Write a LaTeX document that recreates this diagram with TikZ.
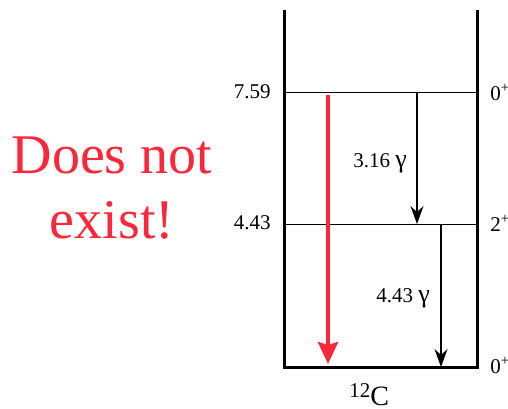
\documentclass[tikz,border=0pt]{standalone}
\usepackage{fontspec}
\setmainfont{LiberationSerif}[Extension=.ttf, UprightFont=*-Regular, BoldFont=*-Bold]
\usetikzlibrary{arrows.meta}

\definecolor{decayred}{RGB}{252,40,58}

\tikzset{
  wall/.style={line width=1.5pt, line join=miter},
  levelline/.style={line width=0.5pt},
  energy/.style={anchor=east, inner sep=0pt, font=\fontsize{10.5}{12}\selectfont},
  spin/.style={anchor=west, inner sep=0pt, font=\fontsize{10.5}{12}\selectfont},
  gammalabel/.style={inner sep=0pt, font=\fontsize{10.5}{12}\selectfont},
  gammaline/.style={line width=0.6pt, -{Stealth[length=9pt, width=6.5pt, inset=3pt]}},
  forbidden/.style={decayred, line width=2pt, -{Stealth[length=11pt, width=10pt, inset=1.5pt]}},
  bigred/.style={decayred, anchor=base, inner sep=0pt, font=\fontsize{28}{32}\selectfont},
}

\begin{document}
\begin{tikzpicture}[x=0.5pt, y=-0.5pt]
  \useasboundingbox (0,0) rectangle (508,408);

  % Box of the level scheme
  \coordinate (tl) at (284,10);
  \coordinate (bl) at (284,367);
  \coordinate (br) at (477,367);
  \coordinate (tr) at (477,10);
  \draw[wall] (tl) -- (bl) -- (br) -- (tr);

  % Levels
  \coordinate (hoyleW) at (284,92);
  \coordinate (hoyleE) at (477,92);
  \coordinate (firstW) at (284,224);
  \coordinate (firstE) at (477,224);
  \draw[levelline] (hoyleW) -- (hoyleE);
  \draw[levelline] (firstW) -- (firstE);

  % Energies and spins
  \node[energy] (e759) at (271,92) {7.59};
  \node[energy] (e443) at (271,223) {4.43};
  \node[spin] (s0a) at (490,92) {0\textsuperscript{+}};
  \node[spin] (s2) at (490,223) {2\textsuperscript{+}};
  \node[spin] (s0b) at (490,365) {0\textsuperscript{+}};

  % Gamma transitions
  \coordinate (g1top) at (417,92);
  \coordinate (g1bot) at (417,224);
  \coordinate (g2top) at (441,224);
  \coordinate (g2bot) at (441,367);
  \draw[gammaline] (g1top) -- (g1bot);
  \draw[gammaline] (g2top) -- (g2bot);
  \node[gammalabel] (l316) at (380,163) {3.16 {\fontsize{13}{14}\selectfont γ}};
  \node[gammalabel] (l443) at (403,298) {4.43 {\fontsize{13}{14}\selectfont γ}};

  % Direct decay that is not there
  \coordinate (rtop) at (328,95);
  \coordinate (rbot) at (328,364);
  \draw[forbidden] (rtop) -- (rbot);
  \node[bigred] (does) at (112,173) {Does not};
  \node[bigred] (exist) at (112,238) {exist!};

  % Nucleus
  \node[anchor=base west, inner sep=0pt] (nucl) at (349,405)
    {\raisebox{4pt}{\fontsize{10.5}{12}\selectfont 12}\fontsize{14}{16}\selectfont C};
\end{tikzpicture}
\end{document}
